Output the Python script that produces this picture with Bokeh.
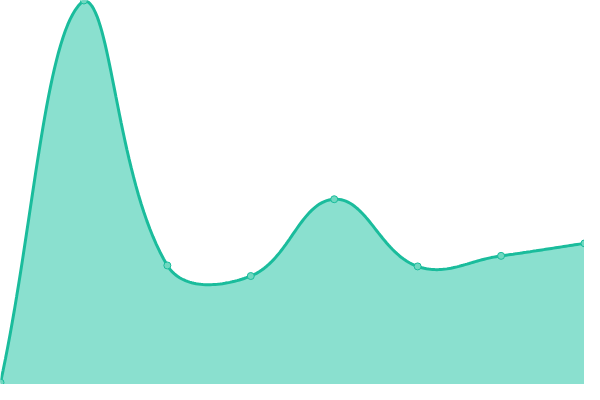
import numpy as np
from bokeh.plotting import figure
from bokeh.embed import file_html
from bokeh.resources import INLINE

# data
categories = ["A", "B", "C", "D", "E", "F", "G", "H"]
values = [0.5, 100, 31, 28.25, 48.25, 30.75, 33.5, 36.75]
y_min, y_max = 0, 100

W, H = 584, 384
LINE = "#1abc9c"
FILL = "#8ae0cf"
POINT_FILL = "#6fd8c0"

xs = np.arange(len(categories), dtype=float)
ys = np.array(values, dtype=float)
n = len(xs)
x_max = n - 1

# pixel space (y up) for Chart.js-like spline (tension 0.4) with capping
px = xs / x_max * W
py = (ys - y_min) / (y_max - y_min) * H
t = 0.4
cp_prev = np.zeros((n, 2))
cp_next = np.zeros((n, 2))
for i in range(n):
    c = np.array([px[i], py[i]])
    p = np.array([px[i - 1], py[i - 1]]) if i > 0 else c
    q = np.array([px[i + 1], py[i + 1]]) if i < n - 1 else c
    d01 = np.hypot(*(c - p))
    d12 = np.hypot(*(q - c))
    tot = d01 + d12
    s01 = d01 / tot if tot else 0
    s12 = d12 / tot if tot else 0
    fa, fb = t * s01, t * s12
    cp_prev[i] = c - fa * (q - p)
    cp_next[i] = c + fb * (q - p)
cp_prev[:, 0] = np.clip(cp_prev[:, 0], 0, W)
cp_next[:, 0] = np.clip(cp_next[:, 0], 0, W)
cp_prev[:, 1] = np.clip(cp_prev[:, 1], 0, H)
cp_next[:, 1] = np.clip(cp_next[:, 1], 0, H)

cx, cy = [], []
ts = np.linspace(0, 1, 40)
for i in range(n - 1):
    P0 = np.array([px[i], py[i]])
    P1 = cp_next[i]
    P2 = cp_prev[i + 1]
    P3 = np.array([px[i + 1], py[i + 1]])
    seg = ((1 - ts) ** 3)[:, None] * P0 + (3 * (1 - ts) ** 2 * ts)[:, None] * P1 \
        + (3 * (1 - ts) * ts ** 2)[:, None] * P2 + (ts ** 3)[:, None] * P3
    if i > 0:
        seg = seg[1:]
    cx.extend(seg[:, 0])
    cy.extend(seg[:, 1])
cx = np.array(cx) / W * x_max
cy = np.array(cy) / H * (y_max - y_min) + y_min

p = figure(width=W, height=H, output_backend="svg", toolbar_location=None,
           x_range=(0, x_max), y_range=(y_min, y_max), min_border=0)
p.axis.visible = False
p.grid.visible = False
p.outline_line_color = None
p.background_fill_color = "white"
p.border_fill_color = "white"

p.varea(x=cx, y1=np.full_like(cy, y_min), y2=cy, fill_color=FILL, fill_alpha=1.0)
p.line(cx, cy, line_color=LINE, line_width=3)
p.scatter(xs, ys, size=7, fill_color=POINT_FILL, line_color=LINE, line_width=1)

open("out.html", "w").write(file_html(p, INLINE))
